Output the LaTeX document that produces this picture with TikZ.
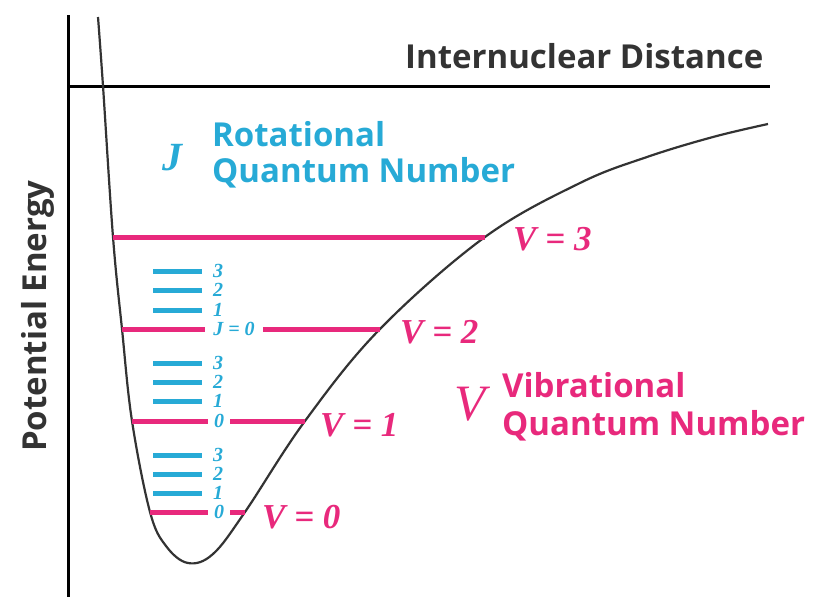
\documentclass[tikz,border=0pt]{standalone}
\usepackage{fontspec}
\setmainfont{Liberation Serif}
\newfontfamily\headfont{Open Sans}
\usepackage{xcolor}
\usepackage{tikz}
\usetikzlibrary{positioning}
\definecolor{ink}{HTML}{333333}
\definecolor{vibpink}{HTML}{E8297C}
\definecolor{rotblue}{HTML}{27AAD6}

\begin{document}
\begin{tikzpicture}[x=1pt, y=-1pt,
  axisline/.style={line width=3pt, black},
  wellcurve/.style={line width=2.2pt, ink},
  vibline/.style={line width=5pt, vibpink},
  rotline/.style={line width=5pt, rotblue},
  heading/.style={font=\headfont\bfseries\fontsize{33}{36}\selectfont, inner sep=0pt, anchor=base west},
  vlabel/.style={font=\bfseries\itshape\fontsize{35}{40}\selectfont, text=vibpink, inner sep=0pt, anchor=base west},
  jlabel/.style={font=\bfseries\itshape\fontsize{20}{22}\selectfont, text=rotblue, inner xsep=6pt, inner ysep=0pt}]
  \useasboundingbox (0,0) rectangle (814,597);

  % axes
  \draw[axisline] (68,15) -- (68,597);
  \draw[axisline] (68,86) -- (770,86);
  \node[heading, text=ink] (xlab) at (405,68) {Internuclear Distance};
  \node[heading, text=ink, rotate=90] (ylab) at (46,452) {Potential Energy};

  % turning points of the levels
  \coordinate (l3) at (113,237); \coordinate (r3) at (485,237);
  \coordinate (l2) at (122,329); \coordinate (r2) at (380,329);
  \coordinate (l1) at (132,421); \coordinate (r1) at (305,421);
  \coordinate (l0) at (150,512); \coordinate (r0) at (245,512);

  % potential well
  \draw[wellcurve] plot[smooth, tension=0.6] coordinates {(98,17) (103,86) (l3) (l2) (l1) (l0)
    (166,546) (188,563) (213,554) (r0) (r1) (r2) (r3) (580,183) (647,157) (713,137) (768,124)};

  % vibrational levels
  \draw[vibline] (l3) -- (r3);
  \node[jlabel, inner xsep=8pt] (j0b) at (234,329) {J = 0};
  \draw[vibline] (l2) -- (j0b);
  \draw[vibline] (j0b) -- (r2);
  \node[jlabel] (j0a) at (219,421) {0};
  \draw[vibline] (l1) -- (j0a);
  \draw[vibline] (j0a) -- (r1);
  \node[jlabel] (j00) at (219,512) {0};
  \draw[vibline] (l0) -- (j00);
  \draw[vibline] (j00) -- (r0);

  % rotational levels
  \foreach \y/\n/\k in {271/3/c, 290/2/b, 310/1/a, 363/3/f, 382/2/e, 401/1/d, 455/3/i, 474/2/h, 493/1/g} {
    \draw[rotline] (153,\y) -- (202,\y);
    \node[jlabel, anchor=west] (rot\k) at (207,\y) {\n};
  }

  \node[vlabel] (v3) at (513,250) {V = 3};
  \node[vlabel] (v2) at (400,343) {V = 2};
  \node[vlabel] (v1) at (320,436) {V = 1};
  \node[vlabel] (v0) at (262,528) {V = 0};

  % legends
  \node[font=\bfseries\itshape\fontsize{40}{44}\selectfont, text=rotblue, inner sep=0pt] (jsym) at (172,158) {J};
  \node[heading, text=rotblue] (rota) at (212,146) {Rotational};
  \node[heading, text=rotblue] (rotb) at (212,182) {Quantum Number};
  \node[font=\itshape\fontsize{51}{56}\selectfont, text=vibpink, inner sep=0pt] (vsym) at (470,404) {V};
  \node[heading, text=vibpink] (viba) at (502,397) {Vibrational};
  \node[heading, text=vibpink] (vibb) at (502,435) {Quantum Number};
\end{tikzpicture}
\end{document}
